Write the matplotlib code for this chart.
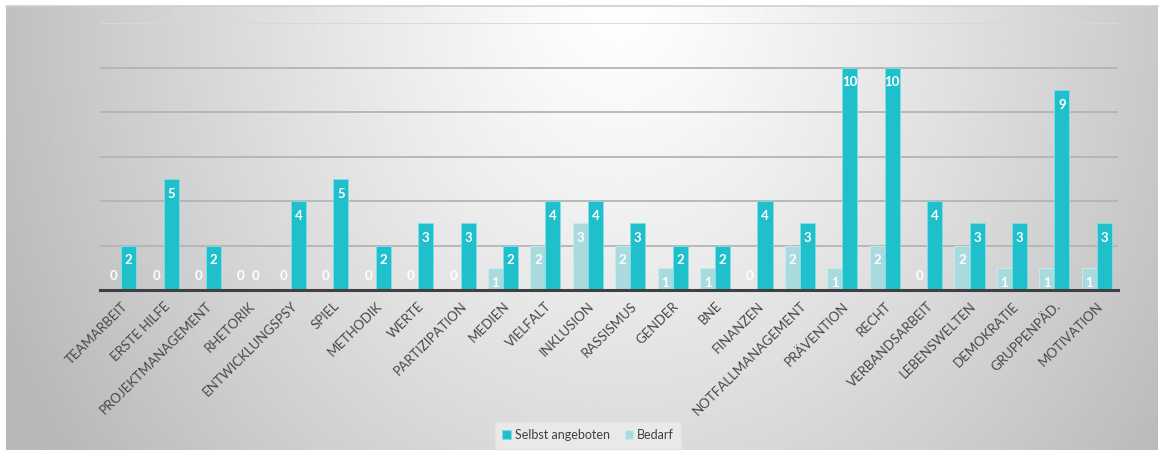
import matplotlib.pyplot as plt
import numpy as np

categories = [
    "TEAMARBEIT", "ERSTE HILFE", "PROJEKTMANAGEMENT", "RHETORIK", "ENTWICKLUNGSPSY",
    "SPIEL", "METHODIK", "WERTE", "PARTIZIPATION", "MEDIEN", "VIELFALT", "INKLUSION",
    "RASSISMUS", "GENDER", "BNE", "FINANZEN", "NOTFALLMANAGEMENT", "PRÄVENTION",
    "RECHT", "VERBANDSARBEIT", "LEBENSWELTEN", "DEMOKRATIE", "GRUPPENPÄD.", "MOTIVATION",
]
selbst = [2, 5, 2, 0, 4, 5, 2, 3, 3, 2, 4, 4, 3, 2, 2, 4, 3, 10, 10, 4, 3, 3, 9, 3]
bedarf = [0, 0, 0, 0, 0, 0, 0, 0, 0, 1, 2, 3, 2, 1, 1, 0, 2, 1, 2, 0, 2, 1, 1, 1]

W, H = 1162, 451
TEAL = "#20bfcc"
LIGHT = "#a8dade"

plt.rcParams["font.family"] = ["Lato", "DejaVu Sans"]

fig = plt.figure(figsize=(W / 100, H / 100), dpi=100)
fig.patch.set_facecolor("white")

# radial grey background
bg = fig.add_axes([6 / W, 1 / H, 1152 / W, 444 / H])
xs = np.linspace(6, 1158, 400)
ys = np.linspace(6, 450, 160)
gx, gy = np.meshgrid(xs, ys)
r = np.sqrt(((gx - 620) / 560) ** 2 + ((gy - 0) / 650) ** 2)
val = np.clip(1 - 0.22 * r ** 1.2, 0.72, 0.995)
bg.imshow(val, cmap="gray", vmin=0, vmax=1, aspect="auto",
          extent=(0, 1, 0, 1), origin="upper", interpolation="bilinear")
bg.set_axis_off()
fig.add_artist(plt.Line2D([6 / W, 1158 / W], [1 - 6 / H, 1 - 6 / H],
                          color="#d0d0d0", lw=1.2, transform=fig.transFigure))

ax = fig.add_axes([100 / W, (H - 290) / H, 1018 / W, 267 / H])
ax.set_facecolor("none")
x = np.arange(len(categories))
bw = 0.355
ax.bar(x - bw / 2, bedarf, bw, color=LIGHT, edgecolor="#c4eef0", linewidth=0.6,
       label="Bedarf", zorder=3)
ax.bar(x + bw / 2, selbst, bw, color=TEAL, edgecolor="#7fe0e8", linewidth=0.6,
       label="Selbst angeboten", zorder=3)

for xi, vals in ((x - bw / 2, bedarf), (x + bw / 2, selbst)):
    for px, v in zip(xi, vals):
        off = 14 if v == 0 else -15
        ax.annotate(str(v), (px, v), xytext=(0, off), textcoords="offset pixels",
                    ha="center", va="center", color="white", fontsize=9.5,
                    fontweight="bold", zorder=4)

for yv in range(2, 13, 2):
    ax.axhline(yv, color="#b4b4b4" if yv < 12 else "#d8d8d8", lw=1.3, zorder=1)

ax.set_xlim(-0.5, len(categories) - 0.5)
ax.set_ylim(0, 12)
ax.set_yticks([])
for s in ("top", "right", "left"):
    ax.spines[s].set_visible(False)
ax.spines["bottom"].set_color("#404040")
ax.spines["bottom"].set_linewidth(2.2)
ax.spines["bottom"].set_zorder(5)
ax.set_xticks(x)
ax.set_xticklabels(categories, rotation=45, ha="right", va="top",
                   rotation_mode="anchor", fontsize=9.5, color="#484848")
ax.tick_params(axis="x", length=0, pad=7)

handles, labels = ax.get_legend_handles_labels()
leg = fig.legend(handles[::-1], labels[::-1], loc="center", ncol=2,
                 bbox_to_anchor=(588 / W, 1 - 435 / H), frameon=True,
                 fontsize=9, handlelength=0.7, handleheight=0.7,
                 handletextpad=0.3, columnspacing=1.2, borderpad=0.6)
leg.get_frame().set_facecolor("#ebebeb")
leg.get_frame().set_edgecolor("#e4e4e4")
leg.get_frame().set_alpha(0.9)
leg.get_frame().set_boxstyle("square", pad=0)
for t in leg.get_texts():
    t.set_color("#404040")

fig.savefig("out.png", dpi=100)
